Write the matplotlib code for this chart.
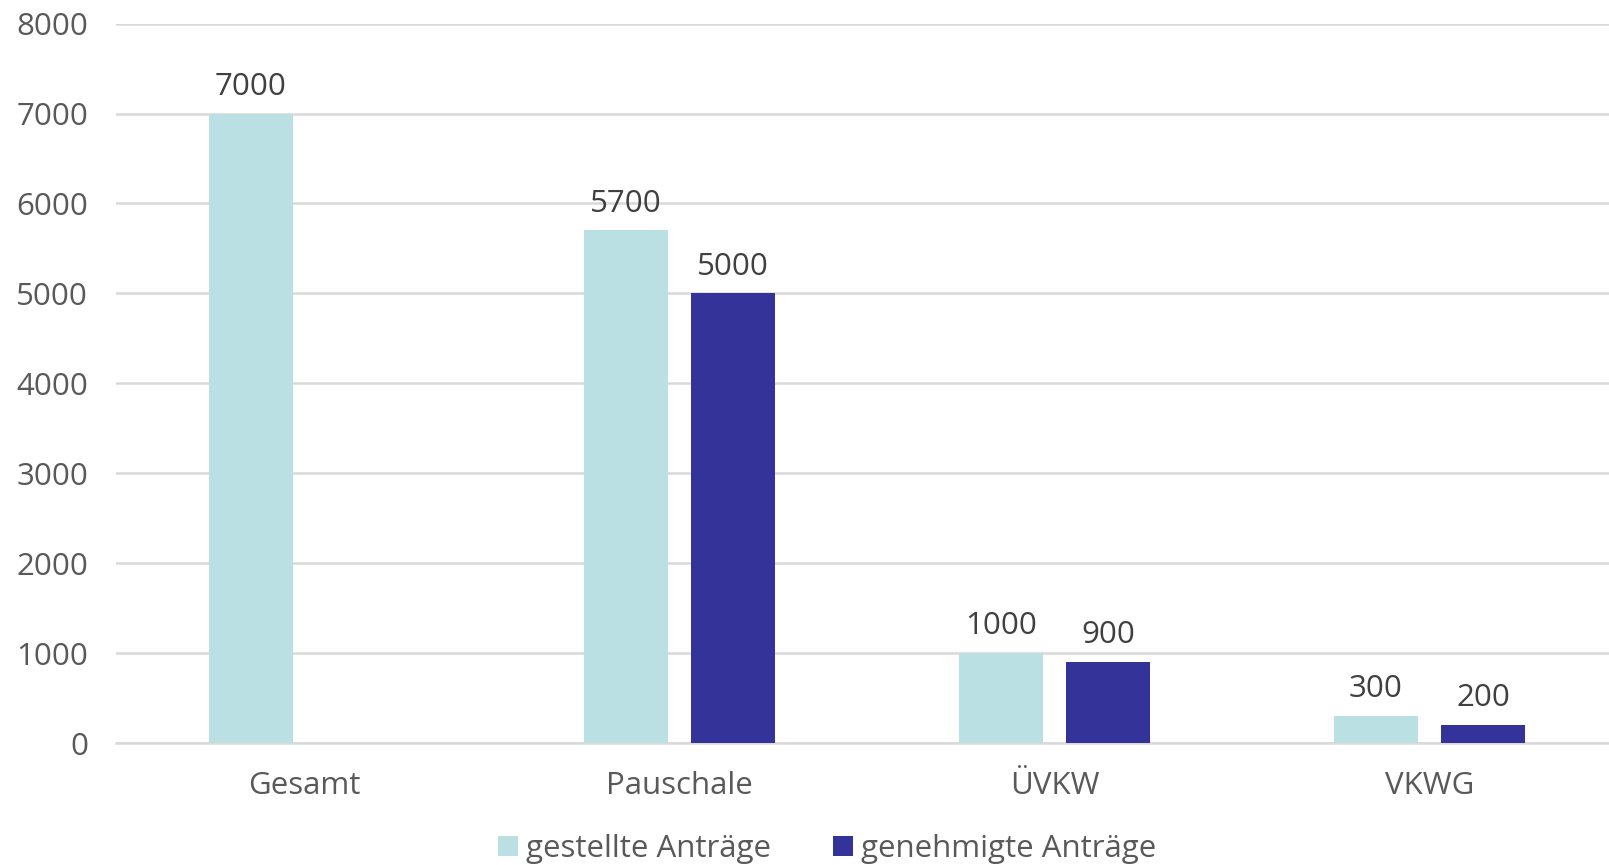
import numpy as np
import matplotlib.pyplot as plt

# categories and request counts
kategorien = ["Gesamt", "Pauschale", "ÜVKW", "VKWG"]
gestellt = [7000, 5700, 1000, 300]
genehmigt = [np.nan, 5000, 900, 200]
serien = ["gestellte Anträge", "genehmigte Anträge"]

hell = "#BAE0E3"
dunkel = "#343399"
fs = 22.5

plt.rcParams['font.family'] = ['Open Sans', 'DejaVu Sans']

fig = plt.figure(figsize=(16.09, 8.65), dpi=100)
ax = fig.add_axes([0.0721, 0.141, 0.9279, 0.8317])

x = np.arange(len(kategorien))
off = 0.143
w = 0.224
b1 = ax.bar(x - off, gestellt, w, color=hell, label=serien[0], zorder=3)
b2 = ax.bar(x + off, genehmigt, w, color=dunkel, label=serien[1], zorder=3)

# value labels above bars
for bars, vals in ((b1, gestellt), (b2, genehmigt)):
    for r, v in zip(bars, vals):
        if np.isnan(v):
            continue
        ax.text(r.get_x() + r.get_width() / 2, v + 130, f"{int(v)}",
                ha="center", va="bottom", fontsize=fs, color="#404040")

ax.set_xlim(-0.503, 3.479)
ax.set_ylim(0, 8000)
ax.set_yticks(range(0, 8001, 1000))
ax.set_xticks(x)
ax.set_xticklabels(kategorien)
ax.yaxis.grid(True, color="#D9D9D9", linewidth=1.8, zorder=0)
ax.set_axisbelow(True)
for s in ("top", "right", "left"):
    ax.spines[s].set_visible(False)
ax.spines["bottom"].set_color("#D9D9D9")
ax.spines["bottom"].set_linewidth(1.8)
ax.tick_params(axis="both", length=0, labelsize=fs, colors="#595959")
ax.tick_params(axis="y", pad=20)
ax.tick_params(axis="x", pad=20)

fig.legend(loc="center", bbox_to_anchor=(827 / 1609, 1 - 849 / 865), ncol=2,
           frameon=False, fontsize=fs, handlelength=0.65, handleheight=0.65,
           handletextpad=0.25, columnspacing=2.0, labelcolor="#595959")

fig.savefig("out.png", dpi=100)
